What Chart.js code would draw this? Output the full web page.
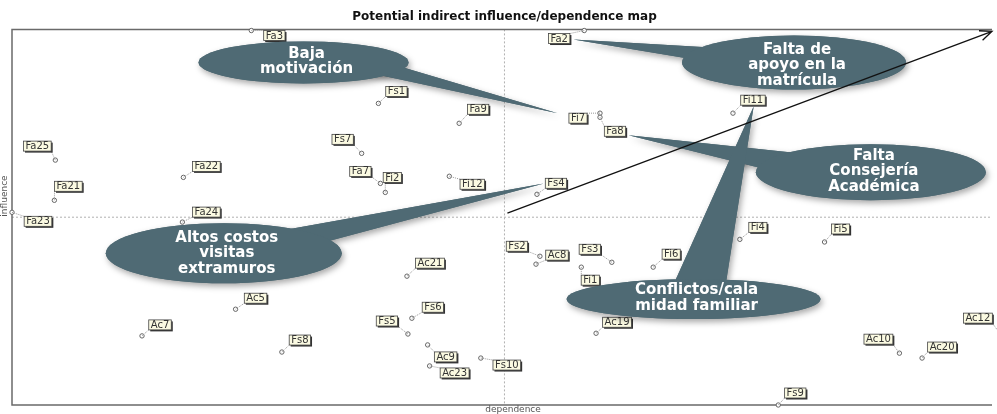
<!DOCTYPE html>
<html>
<head>
<meta charset="utf-8">
<script src="https://cdn.jsdelivr.net/npm/chart.js@4.4.1/dist/chart.umd.min.js"></script>
<style>
  html, body { margin: 0; padding: 0; background: #fff; }
  #map { display: block; }
</style>
</head>
<body>
<canvas id="map" width="997" height="414"></canvas>
<script>
// variables of the MICMAC analysis
const names = ["Fa3", "Fa2", "Fs1", "Fa9", "Fi7", "Fa8", "Fi11", "Fs7", "Fa25", "Fa22",
    "Fa7", "Fi2", "Fi12", "Fa21", "Fs4", "Fa23", "Fa24", "Fi4", "Fi5", "Fs2",
    "Ac8", "Fs3", "Fi1", "Fi6", "Ac21", "Ac5", "Fs6", "Fs5", "Ac19", "Ac7",
    "Fs8", "Ac9", "Ac23", "Fs10", "Ac10", "Ac20", "Ac12", "Fs9"];
const dependence = [24.3, 58.1, 37.2, 45.4, 59.7, 59.7, 73.2, 35.5, 4.4, 17.4,
    37.4, 37.9, 44.4, 4.3, 53.3, 0.0, 17.3, 73.9, 82.5, 53.6,
    53.2, 60.9, 57.8, 65.1, 40.1, 22.7, 40.6, 40.2, 59.3, 13.2,
    27.4, 42.2, 42.4, 47.6, 90.1, 92.4, 100.2, 77.8];
const influence = [99.7, 99.7, 80.3, 75.0, 77.7, 76.6, 77.7, 67.0, 65.2, 60.6,
    59.0, 56.6, 60.9, 54.5, 56.1, 51.3, 48.7, 44.1, 43.4, 39.6,
    37.5, 38.0, 36.7, 36.7, 34.3, 25.5, 23.1, 18.9, 19.1, 18.4,
    14.1, 16.0, 10.4, 12.5, 13.8, 12.5, 19.4, 0.0];

// where each label box sits relative to its point (pixels)
const labelOffset = {
    Fa3: [23, 5], Fa2: [-25, 8], Fs1: [18, -12], Fa9: [19, -14], Fi7: [-22, 5],
    Fa8: [15, 14], Fi11: [20, -13], Fs7: [-19, -14], Fa25: [-18, -14], Fa22: [23, -11],
    Fa7: [-20, -12], Fi2: [7, -15], Fi12: [23, 8], Fa21: [14, -14], Fs4: [19, -11],
    Fa23: [26, 9], Fa24: [24, -10], Fi4: [18, -12], Fi5: [16, -13], Fs2: [-23, -10],
    Ac8: [21, -9], Fs3: [-22, -13], Fi1: [9, 13], Fi6: [18, -13], Ac21: [23, -13],
    Ac5: [20, -11], Fs6: [21, -11], Fs5: [-21, -13], Ac19: [21, -11], Ac7: [18, -11],
    Fs8: [18, -12], Ac9: [18, 12], Ac23: [25, 7], Fs10: [26, 7], Ac10: [-21, -14],
    Ac20: [20, -11], Ac12: [-21, -14], Fs9: [17, -12]
};

// callout bubbles: centre and tail tip in chart units
const callouts = [
    { text: ["Baja", "motivación"], at: [29.6, 91.2], tip: [55.4, 77.7], rx: 105, ry: 21, base: [15, 40], dy: -1 },
    { text: ["Falta de", "apoyo en la", "matrícula"], at: [79.4, 91.2], tip: [57.0, 97.3], rx: 112, ry: 27, base: [190, 215], dy: 3 },
    { text: ["Falta", "Consejería", "Académica"], at: [87.2, 62.0], tip: [62.6, 71.8], rx: 115, ry: 28, base: [190, 225], dy: -1 },
    { text: ["Altos costos", "visitas", "extramuros"], at: [21.5, 40.4], tip: [54.0, 59.0], rx: 118, ry: 30, base: [305, 335], dy: 0 },
    { text: ["Conflictos/cala", "midad familiar"], at: [69.2, 28.2], tip: [75.3, 79.5], rx: 127, ry: 20, base: [262, 285], dy: -1 }
];

const points = names.map((n, i) => ({ x: dependence[i], y: influence[i] }));
const bubbleColor = "#4f6a74";

const mapDecor = {
    id: "mapDecor",
    beforeDatasetsDraw(chart) {
        const { ctx, chartArea: a, scales: { x, y } } = chart;
        ctx.save();
        // mean lines
        ctx.strokeStyle = "#b0b0b0";
        ctx.lineWidth = 1;
        ctx.setLineDash([2, 2]);
        ctx.beginPath();
        ctx.moveTo(x.getPixelForValue(50), a.top);
        ctx.lineTo(x.getPixelForValue(50), a.bottom);
        ctx.moveTo(a.left, y.getPixelForValue(50));
        ctx.lineTo(a.right, y.getPixelForValue(50));
        ctx.stroke();
        ctx.setLineDash([]);
        // frame
        ctx.strokeStyle = "#6a6a6a";
        ctx.lineWidth = 1.5;
        ctx.beginPath();
        ctx.moveTo(a.right, a.top);
        ctx.lineTo(a.left, a.top);
        ctx.lineTo(a.left, a.bottom);
        ctx.lineTo(a.right, a.bottom);
        ctx.stroke();
        // axis names
        ctx.fillStyle = "#555";
        ctx.font = "9px 'DejaVu Sans'";
        ctx.textAlign = "center";
        ctx.textBaseline = "middle";
        ctx.fillText("dependence", 513, a.bottom + 5);
        ctx.translate(5, 196);
        ctx.rotate(-Math.PI / 2);
        ctx.fillText("influence", 0, 0);
        ctx.restore();
    },
    afterDatasetsDraw(chart) {
        const { ctx, scales: { x, y } } = chart;
        ctx.save();
        // labels with leader lines
        ctx.font = "10px 'DejaVu Sans'";
        ctx.textAlign = "center";
        ctx.textBaseline = "middle";
        names.forEach((n, i) => {
            const px = x.getPixelForValue(dependence[i]);
            const py = y.getPixelForValue(influence[i]);
            const off = labelOffset[n];
            const lx = px + off[0], ly = py + off[1];
            const w = ctx.measureText(n).width + 4, h = 10;
            const bx = lx - w / 2, by = ly - h / 2;
            const ex = Math.min(Math.max(px, bx), bx + w);
            const ey = Math.min(Math.max(py, by), by + h);
            ctx.strokeStyle = "#999";
            ctx.lineWidth = 1;
            ctx.setLineDash([1, 1]);
            ctx.beginPath();
            ctx.moveTo(px, py);
            ctx.lineTo(ex, ey);
            ctx.stroke();
            ctx.setLineDash([]);
            ctx.fillStyle = "#333";
            ctx.fillRect(bx + 1.5, by + 1.5, w, h);
            ctx.fillStyle = "#fbfae2";
            ctx.fillRect(bx, by, w, h);
            ctx.strokeStyle = "#444";
            ctx.lineWidth = 0.8;
            ctx.strokeRect(bx, by, w, h);
            ctx.fillStyle = "#333";
            ctx.fillText(n, lx, ly + 0.5);
        });

        // callout bubbles
        const shapes = [];
        callouts.forEach(c => {
            const cx = x.getPixelForValue(c.at[0]), cy = y.getPixelForValue(c.at[1]);
            const tx = x.getPixelForValue(c.tip[0]), ty = y.getPixelForValue(c.tip[1]);
            const t1 = c.base[0] * Math.PI / 180, t2 = c.base[1] * Math.PI / 180;
            shapes.push({ c, cx, cy, tx, ty,
                p1: [cx + c.rx * Math.cos(t1), cy + c.ry * Math.sin(t1)],
                p2: [cx + c.rx * Math.cos(t2), cy + c.ry * Math.sin(t2)] });
        });
        const fillShape = s => {
            ctx.beginPath();
            ctx.moveTo(s.p1[0], s.p1[1]);
            ctx.lineTo(s.tx, s.ty);
            ctx.lineTo(s.p2[0], s.p2[1]);
            ctx.lineTo(s.cx, s.cy);
            ctx.closePath();
            ctx.fill();
            ctx.beginPath();
            ctx.ellipse(s.cx, s.cy, s.c.rx, s.c.ry, 0, 0, Math.PI * 2);
            ctx.fill();
        };
        ctx.fillStyle = bubbleColor;
        ctx.shadowColor = "rgba(0,0,0,0.35)";
        ctx.shadowBlur = 6;
        ctx.shadowOffsetX = 2;
        ctx.shadowOffsetY = 3;
        shapes.forEach(fillShape);
        ctx.shadowColor = "transparent";
        shapes.forEach(fillShape);

        ctx.fillStyle = "#fff";
        ctx.font = "bold 15px 'DejaVu Sans'";
        shapes.forEach(s => {
            const lines = s.c.text;
            const lh = 15.5;
            const top = s.cy + s.c.dy - (lines.length - 1) * lh / 2;
            lines.forEach((t, k) => ctx.fillText(t, s.cx + 3, top + k * lh));
        });

        // strategic diagonal arrow
        const x0 = x.getPixelForValue(50.3), y0 = y.getPixelForValue(51.1);
        const x1 = x.getPixelForValue(99.5), y1 = y.getPixelForValue(99.5);
        const ang = Math.atan2(y1 - y0, x1 - x0);
        ctx.strokeStyle = "#111";
        ctx.lineWidth = 1.3;
        ctx.beginPath();
        ctx.moveTo(x0, y0);
        ctx.lineTo(x1, y1);
        ctx.moveTo(x1 - 13 * Math.cos(ang - 0.4), y1 - 13 * Math.sin(ang - 0.4));
        ctx.lineTo(x1, y1);
        ctx.lineTo(x1 - 13 * Math.cos(ang + 0.4), y1 - 13 * Math.sin(ang + 0.4));
        ctx.stroke();
        ctx.restore();
    }
};

new Chart(document.getElementById("map"), {
    type: "scatter",
    data: {
        datasets: [{
            data: points,
            pointRadius: 2.2,
            pointBackgroundColor: "#fff",
            pointBorderColor: "#666",
            pointBorderWidth: 1,
            clip: false
        }]
    },
    options: {
        responsive: false,
        animation: false,
        layout: { padding: { left: 12, right: 0, top: 0, bottom: 9 } },
        scales: {
            x: { display: false, min: 0, max: 99.5 },
            y: { display: false, min: 0, max: 100 }
        },
        plugins: {
            legend: { display: false },
            tooltip: { enabled: false },
            title: {
                display: true,
                text: "Potential indirect influence/dependence map",
                color: "#111",
                font: { family: "'DejaVu Sans'", size: 12, weight: "bold", lineHeight: 1.2 },
                padding: { top: 10, bottom: 5 }
            }
        }
    },
    plugins: [mapDecor]
});
</script>
</body>
</html>
